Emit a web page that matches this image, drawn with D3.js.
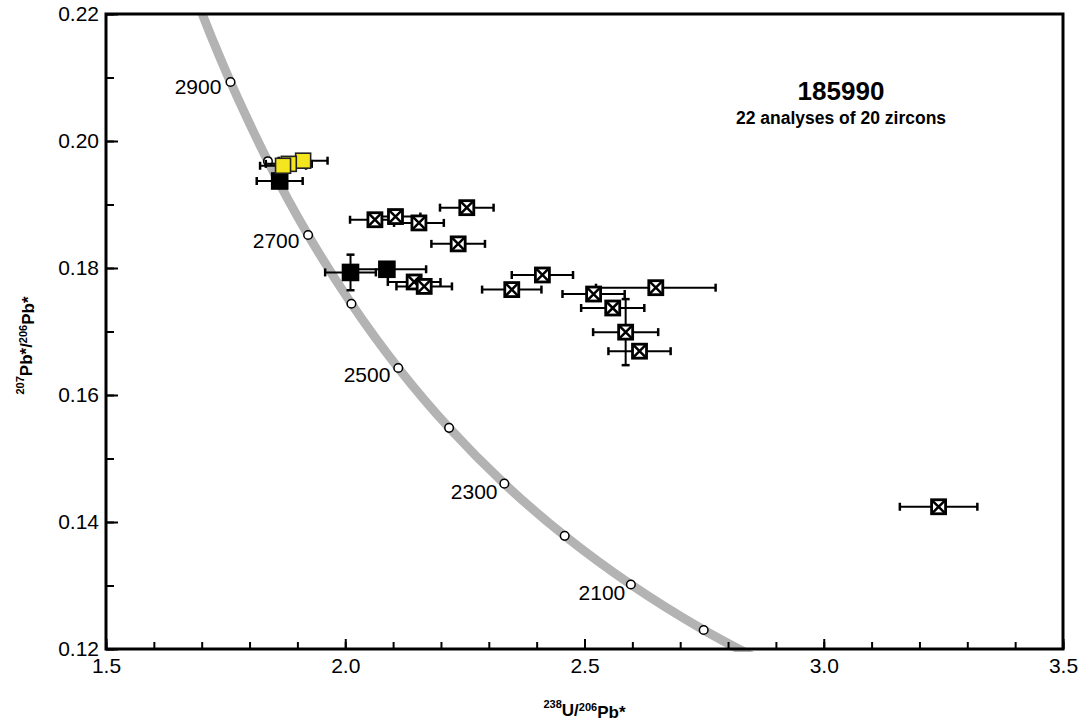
<!DOCTYPE html>
<html>
<head>
<meta charset="utf-8">
<script src="https://cdn.jsdelivr.net/npm/d3@7/dist/d3.min.js"></script>
<style>
  body { margin: 0; background: #fff; }
  text { font-family: "Liberation Sans", Arial, sans-serif; }
</style>
</head>
<body>
<script>
  var W = 1085, H = 722;
  var margin = {top: 14, right: 22, bottom: 73, left: 106},
      width = W - margin.left - margin.right,
      height = H - margin.top - margin.bottom;

  // concordia curve (Tera-Wasserburg), ages in Ma
  var concAges = [1900, 2000, 2100, 2200, 2300, 2400, 2500, 2600, 2700, 2800, 2900, 2950, 2985];
  var concX = [2.9174, 2.7491, 2.5969, 2.4586, 2.3325, 2.2170, 2.1108, 2.0129, 1.9224, 1.8384, 1.7602, 1.7232, 1.6981];
  var concY = [0.11629, 0.12299, 0.13015, 0.13782, 0.14604, 0.15483, 0.16426, 0.17437, 0.18520, 0.19682, 0.20929, 0.21585, 0.22059];
  var markerAges = [2000, 2100, 2200, 2300, 2400, 2500, 2600, 2700, 2800, 2900];
  var labelAges = [2100, 2300, 2500, 2700, 2900];

  // analyses: group 0 = crossed, 1 = black, 2 = yellow
  var ptX    = [2.062, 2.105, 2.154, 2.254, 2.236, 2.144, 2.165, 2.348, 2.412, 2.519, 2.649, 2.559, 2.586, 2.615, 3.240, 2.011, 2.087, 1.863, 1.912, 1.882, 1.870];
  var ptY    = [0.1876, 0.1881, 0.1871, 0.1895, 0.1838, 0.1778, 0.1771, 0.1766, 0.1789, 0.1759, 0.1769, 0.1737, 0.1699, 0.1669, 0.1424, 0.1793, 0.1798, 0.1937, 0.1969, 0.1964, 0.1961];
  var ptXerr = [0.052, 0.052, 0.052, 0.056, 0.056, 0.055, 0.058, 0.062, 0.064, 0.065, 0.125, 0.066, 0.068, 0.065, 0.081, 0.053, 0.082, 0.048, 0.051, 0.048, 0.048];
  var ptYerr = [0.001, 0.001, 0.001, 0.001, 0.001, 0.001, 0.001, 0.001, 0.001, 0.001, 0.001, 0.001, 0.0052, 0.001, 0.001, 0.0028, 0.001, 0.001, 0.001, 0.001, 0.001];
  var ptGroup = [0, 0, 0, 0, 0, 0, 0, 0, 0, 0, 0, 0, 0, 0, 0, 1, 1, 1, 2, 2, 2];

  var xTicks = [1.5, 2.0, 2.5, 3.0, 3.5];
  var yTicks = [0.12, 0.14, 0.16, 0.18, 0.20, 0.22];

  var sampleName = "185990";
  var sampleNote = "22 analyses of 20 zircons";

  var x = d3.scaleLinear().domain([1.5, 3.5]).range([0, width]);
  var y = d3.scaleLinear().domain([0.12, 0.22]).range([height, 0]);

  var svg = d3.select("body").append("svg")
      .attr("width", W)
      .attr("height", H);

  var g = svg.append("g")
      .attr("transform", "translate(" + margin.left + "," + margin.top + ")");

  g.append("clipPath").attr("id", "plot")
    .append("rect").attr("width", width).attr("height", height + 3);

  // concordia
  var conc = concAges.map(function(a, i) { return {age: a, x: concX[i], y: concY[i]}; });
  var line = d3.line()
      .x(function(d) { return x(d.x); })
      .y(function(d) { return y(d.y); })
      .curve(d3.curveCatmullRom.alpha(0.5));

  g.append("path")
      .datum(conc)
      .attr("clip-path", "url(#plot)")
      .attr("d", line)
      .attr("fill", "none")
      .attr("stroke", "#b3b3b3")
      .attr("stroke-width", 9);

  var markers = conc.filter(function(d) { return markerAges.indexOf(d.age) > -1; });

  g.selectAll(".agemark")
      .data(markers)
    .enter().append("circle")
      .attr("class", "agemark")
      .attr("cx", function(d) { return x(d.x); })
      .attr("cy", function(d) { return y(d.y); })
      .attr("r", 4.3)
      .attr("fill", "#fff")
      .attr("stroke", "#000")
      .attr("stroke-width", 1.5);

  // age labels sit off the curve, on its lower-left side
  g.selectAll(".agelabel")
      .data(markers.filter(function(d) { return labelAges.indexOf(d.age) > -1; }))
    .enter().append("text")
      .attr("class", "agelabel")
      .each(function(d) {
        var i = concAges.indexOf(d.age);
        var p0 = conc[i - 1], p1 = conc[i + 1];
        var dx = x(p0.x) - x(p1.x), dy = y(p0.y) - y(p1.y);
        var len = Math.sqrt(dx * dx + dy * dy);
        var nx = -dy / len, ny = dx / len;
        d3.select(this)
          .attr("x", x(d.x) + nx * 10)
          .attr("y", y(d.y) + ny * 10)
          .attr("dy", "0.36em");
      })
      .attr("text-anchor", "end")
      .style("font-size", "21px")
      .text(function(d) { return d.age; });

  // analyses
  var pts = ptX.map(function(v, i) {
    return {x: v, y: ptY[i], xe: ptXerr[i], ye: ptYerr[i], grp: ptGroup[i]};
  });

  var eb = g.append("g").attr("stroke", "#000").attr("stroke-width", 2);
  pts.forEach(function(d) {
    var cx = x(d.x), cy = y(d.y);
    var x0 = x(d.x - d.xe), x1 = x(d.x + d.xe);
    var y0 = y(d.y - d.ye), y1 = y(d.y + d.ye);
    eb.append("line").attr("x1", x0).attr("x2", x1).attr("y1", cy).attr("y2", cy);
    eb.append("line").attr("x1", x0).attr("x2", x0).attr("y1", cy - 4).attr("y2", cy + 4).attr("stroke-width", 2.5);
    eb.append("line").attr("x1", x1).attr("x2", x1).attr("y1", cy - 4).attr("y2", cy + 4).attr("stroke-width", 2.5);
    eb.append("line").attr("x1", cx).attr("x2", cx).attr("y1", y0).attr("y2", y1);
    eb.append("line").attr("x1", cx - 4).attr("x2", cx + 4).attr("y1", y0).attr("y2", y0).attr("stroke-width", 2.5);
    eb.append("line").attr("x1", cx - 4).attr("x2", cx + 4).attr("y1", y1).attr("y2", y1).attr("stroke-width", 2.5);
  });

  var sym = g.selectAll(".pt")
      .data(pts)
    .enter().append("g")
      .attr("class", "pt")
      .attr("transform", function(d) { return "translate(" + x(d.x) + "," + y(d.y) + ")"; });

  sym.filter(function(d) { return d.grp === 0; }).each(function() {
    var s = d3.select(this), h = 7;
    s.append("rect").attr("x", -h).attr("y", -h).attr("width", 2 * h).attr("height", 2 * h)
      .attr("fill", "#fff").attr("stroke", "#000").attr("stroke-width", 2.8);
    s.append("path").attr("d", "M" + (-h) + "," + (-h) + "L" + h + "," + h + "M" + h + "," + (-h) + "L" + (-h) + "," + h)
      .attr("stroke", "#000").attr("stroke-width", 2.5);
  });

  sym.filter(function(d) { return d.grp === 1; })
    .append("rect")
      .attr("x", -8.8).attr("y", -8.8).attr("width", 17.6).attr("height", 17.6)
      .attr("fill", "#000");

  sym.filter(function(d) { return d.grp === 2; })
    .append("rect")
      .attr("x", -7.5).attr("y", -7.5).attr("width", 15).attr("height", 15)
      .attr("fill", "#f4e61e").attr("stroke", "#222").attr("stroke-width", 1.6);

  // axes: ticks point inward
  var xAxis = g.append("g")
      .attr("transform", "translate(0," + height + ")")
      .call(d3.axisBottom(x).tickValues(xTicks).tickSize(-10).tickPadding(9).tickFormat(d3.format(".1f")));
  var xMinor = g.append("g")
      .attr("transform", "translate(0," + height + ")")
      .call(d3.axisBottom(x).ticks(20).tickSize(-7).tickFormat(""));
  var yAxis = g.append("g")
      .call(d3.axisLeft(y).tickValues(yTicks).tickSize(-12).tickPadding(7).tickFormat(d3.format(".2f")));
  var yMinor = g.append("g")
      .call(d3.axisLeft(y).ticks(10).tickSize(-8).tickFormat(""));

  [xAxis, xMinor, yAxis, yMinor].forEach(function(a) {
    a.select(".domain").remove();
    a.selectAll(".tick line").attr("stroke", "#000").attr("stroke-width", 2);
    a.selectAll("text")
      .attr("fill", "#000")
      .style("font-size", "21px")
      .style("font-family", "'Liberation Sans', Arial, sans-serif");
  });

  // frame
  g.append("rect")
      .attr("width", width)
      .attr("height", height)
      .attr("fill", "none")
      .attr("stroke", "#000")
      .attr("stroke-width", 3);

  // sample annotation
  g.append("text")
      .attr("x", 735).attr("y", 86)
      .attr("text-anchor", "middle")
      .style("font-size", "26px").style("font-weight", "bold")
      .text(sampleName);
  g.append("text")
      .attr("x", 735).attr("y", 110)
      .attr("text-anchor", "middle")
      .style("font-size", "17.5px").style("font-weight", "bold")
      .text(sampleNote);

  // axis titles
  var xt = svg.append("text")
      .attr("x", margin.left + width / 2).attr("y", 713)
      .attr("text-anchor", "middle")
      .style("font-size", "17px").style("font-weight", "bold");
  xt.append("tspan").attr("dy", "-0.45em").style("font-size", "11px").text("238");
  xt.append("tspan").attr("dy", "0.45em").text("U/");
  xt.append("tspan").attr("dy", "-0.45em").style("font-size", "11px").text("206");
  xt.append("tspan").attr("dy", "0.45em").text("Pb*");

  var yt = svg.append("text")
      .attr("transform", "translate(29," + (margin.top + height / 2 + 14) + ") rotate(-90)")
      .attr("text-anchor", "middle")
      .style("font-size", "17px").style("font-weight", "bold");
  yt.append("tspan").attr("dy", "-0.45em").style("font-size", "11px").text("207");
  yt.append("tspan").attr("dy", "0.45em").text("Pb*/");
  yt.append("tspan").attr("dy", "-0.45em").style("font-size", "11px").text("206");
  yt.append("tspan").attr("dy", "0.45em").text("Pb*");
</script>
</body>
</html>
